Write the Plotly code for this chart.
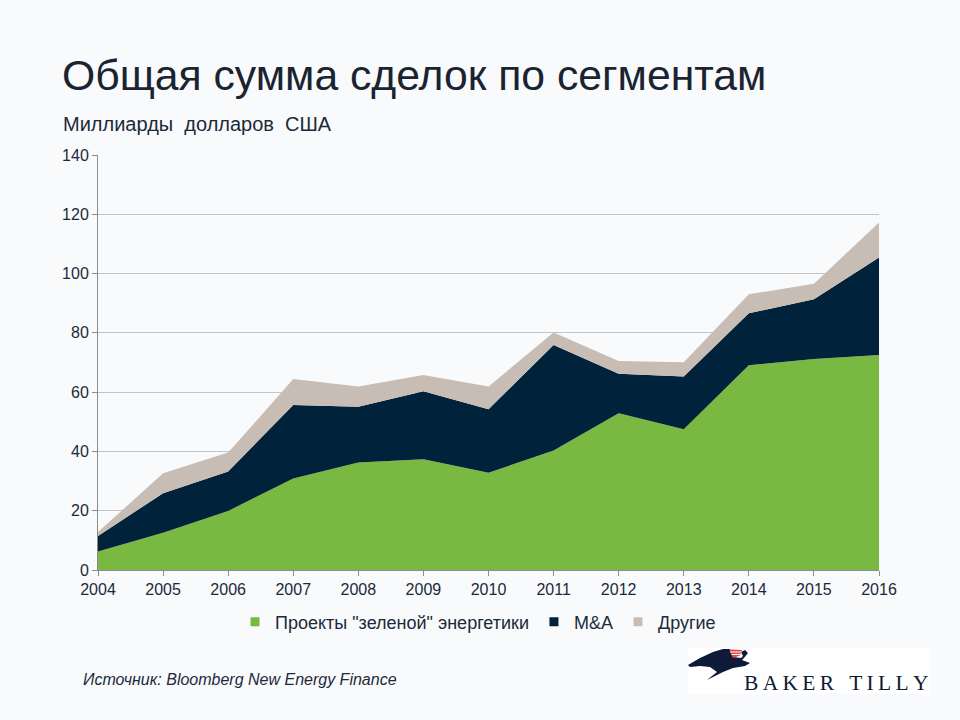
import plotly.graph_objs as go

# data (billions USD)
years = [2004, 2005, 2006, 2007, 2008, 2009, 2010, 2011, 2012, 2013, 2014, 2015, 2016]
green_energy = [6.2, 12.6, 19.9, 30.9, 36.3, 37.4, 32.8, 40.3, 52.9, 47.5, 69.1, 71.2, 72.5]
m_and_a = [5.3, 13.3, 13.3, 24.8, 18.8, 22.9, 21.4, 35.6, 13.3, 17.8, 17.5, 20.1, 32.9]
other = [1.3, 6.7, 6.4, 8.7, 6.8, 5.5, 7.7, 4.2, 4.3, 4.8, 6.4, 5.3, 11.8]
series_names = ['Проекты "зеленой" энергетики', "M&A", "Другие"]
y_ticks = [0, 20, 40, 60, 80, 100, 120, 140]

W, H = 960, 720
L, R, T, B = 98, 879, 155, 570
BG = "#F9FAFC"
TEXT = "#1B2A3A"
FONT = "Liberation Sans, Arial, sans-serif"


def px(x):
    """pixel x -> paper x"""
    return (x - L) / (R - L)


def py(y):
    """pixel y -> paper y"""
    return (B - y) / (B - T)


def path(points):
    return "M " + " L ".join(f"{px(x):.5f},{py(y):.5f}" for x, y in points) + " Z"


colors = ["#7AB941", "#00223A", "#C8BDB4"]
plot_data = []
for name, vals, color in zip(series_names, [green_energy, m_and_a, other], colors):
    plot_data.append(
        go.Scatter(
            x=years,
            y=vals,
            name=name,
            mode="none",
            stackgroup="one",
            fillcolor=color,
            hoverinfo="x+y+name",
            showlegend=False,
        )
    )
# legend entries with small square keys, like the original
for name, color in zip(series_names, colors):
    plot_data.append(
        go.Scatter(
            x=[None],
            y=[None],
            name=name,
            mode="markers",
            marker=dict(symbol="square", size=9, color=color),
        )
    )

layout = go.Layout(
    width=W,
    height=H,
    paper_bgcolor=BG,
    plot_bgcolor=BG,
    margin=dict(l=L, r=W - R, t=T, b=H - B),
    font=dict(family=FONT, color=TEXT, size=16),
    showlegend=True,
    legend=dict(
        orientation="h",
        traceorder="normal",
        x=px(478),
        xanchor="center",
        y=py(622),
        yanchor="middle",
        font=dict(size=18, color=TEXT),
        bgcolor="rgba(0,0,0,0)",
        itemwidth=30,
        tracegroupgap=0,
    ),
    xaxis=dict(
        range=[2004, 2016],
        tickmode="array",
        tickvals=years,
        ticktext=[str(y) for y in years],
        showgrid=False,
        showline=True,
        linecolor="#8C8C8C",
        ticks="outside",
        ticklen=5,
        tickcolor="#8C8C8C",
        zeroline=False,
        tickfont=dict(size=16),
    ),
    yaxis=dict(
        range=[0, 140],
        tickvals=y_ticks,
        showgrid=True,
        gridcolor="#C4C4C8",
        showline=True,
        linecolor="#8C8C8C",
        ticks="outside",
        ticklen=5,
        tickcolor="#8C8C8C",
        zeroline=False,
        tickfont=dict(size=16),
    ),
    annotations=[
        dict(
            text="Общая сумма сделок по сегментам",
            xref="paper", yref="paper", x=px(60), y=py(75),
            xanchor="left", yanchor="middle", showarrow=False,
            font=dict(size=42.7, color="#1A2431"),
        ),
        dict(
            text="Миллиарды  долларов  США",
            xref="paper", yref="paper", x=px(61), y=py(124),
            xanchor="left", yanchor="middle", showarrow=False,
            font=dict(size=20, color=TEXT),
        ),
        dict(
            text="<i>Источник: Bloomberg New Energy Finance</i>",
            xref="paper", yref="paper", x=px(81), y=py(679),
            xanchor="left", yanchor="middle", showarrow=False,
            font=dict(size=16, color=TEXT),
        ),
        dict(
            text="B\u2009A\u2009K\u2009E\u2009R\u2002\u2009T\u2009I\u2009L\u2009L\u2009Y",
            xref="paper", yref="paper", x=px(742), y=py(683),
            xanchor="left", yanchor="middle", showarrow=False,
            font=dict(size=21.5, color="#0E1A33",
                      family="Liberation Serif, Times New Roman, serif"),
        ),
    ],
    shapes=[
        # logo box
        dict(type="rect", xref="paper", yref="paper",
             x0=px(688), x1=px(930), y0=py(648), y1=py(694),
             fillcolor="white", line=dict(width=0), layer="above"),
        # bird
        dict(type="path", xref="paper", yref="paper",
             path=path([(688, 665), (700, 658), (713, 652), (723, 649), (730, 649),
                        (733, 657), (741, 658), (743, 656), (741, 652), (745, 650),
                        (748, 653), (744, 658), (742, 660), (750, 663), (745, 666),
                        (733, 668), (723, 672), (707, 680), (717, 672), (710, 667),
                        (700, 666), (690, 667)]),
             fillcolor="#0E1A3A", line=dict(width=0), layer="above"),
        dict(type="path", xref="paper", yref="paper",
             path=path([(729, 649.5), (742, 650), (740, 655.5), (733, 658)]),
             fillcolor="#E0453E", line=dict(width=0), layer="above"),
        dict(type="line", xref="paper", yref="paper",
             x0=px(730), x1=px(741.5), y0=py(652), y1=py(652),
             line=dict(color="white", width=1), layer="above"),
        dict(type="line", xref="paper", yref="paper",
             x0=px(731.5), x1=px(740.5), y0=py(654.5), y1=py(654.5),
             line=dict(color="white", width=1), layer="above"),
    ],
)

fig = go.Figure(data=plot_data, layout=layout)
fig.write_html(
    "out.html",
    config={"displayModeBar": False},
    post_script="document.body.style.margin='0';",
)
